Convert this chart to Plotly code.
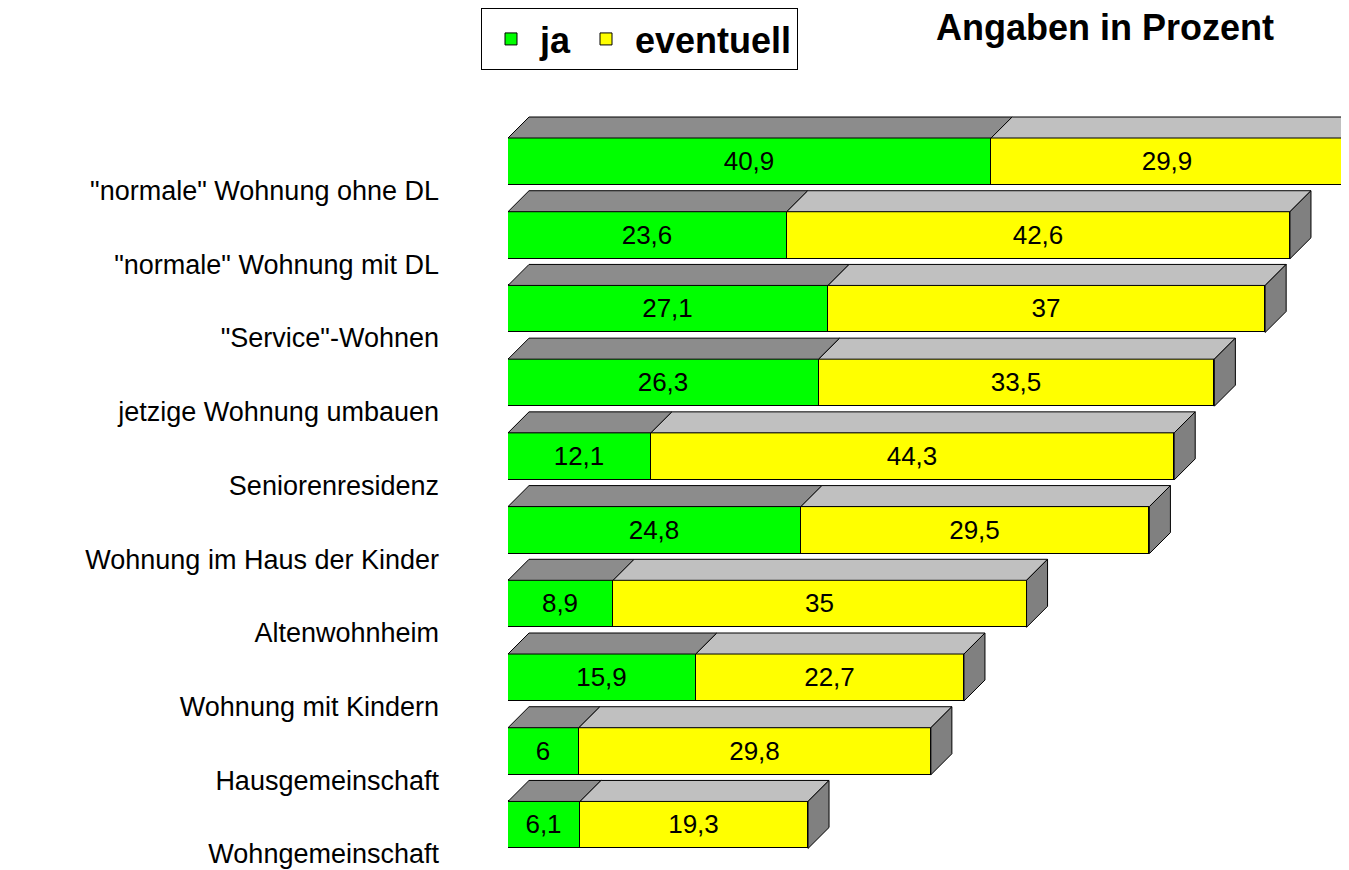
import plotly.graph_objects as go

categories = ['"normale" Wohnung ohne DL', '"normale" Wohnung mit DL', '"Service"-Wohnen',
              'jetzige Wohnung umbauen', 'Seniorenresidenz', 'Wohnung im Haus der Kinder',
              'Altenwohnheim', 'Wohnung mit Kindern', 'Hausgemeinschaft', 'Wohngemeinschaft']
ja = [40.9, 23.6, 27.1, 26.3, 12.1, 24.8, 8.9, 15.9, 6, 6.1]
eventuell = [29.9, 42.6, 37, 33.5, 44.3, 29.5, 35, 22.7, 29.8, 19.3]
series_names = ["ja", "eventuell"]

FONT = "Liberation Sans, Arial, sans-serif"
GREEN = "#00ff00"
YELLOW = "#ffff00"
TOP_GREEN = "#8c8c8c"
TOP_YELLOW = "#c0c0c0"
SIDE = "#808080"

n = len(categories)
ypos = [n - 1 - i for i in range(n)]
BW = 0.638      # bar thickness (category units)
DX = 1.78       # depth offset along x (value units)
DY = 0.285      # depth offset along y (category units)


def fmt(v):
    return ("%g" % v).replace(".", ",")


fig = go.Figure()
fig.add_trace(go.Bar(
    y=ypos, x=ja, orientation="h", width=BW, name=series_names[0],
    marker=dict(color=GREEN, line=dict(color="black", width=1)),
    text=[fmt(v) for v in ja], textposition="inside", insidetextanchor="middle",
    textangle=0, textfont=dict(family=FONT, size=26, color="black"),
    constraintext="none", hoverinfo="skip"))
fig.add_trace(go.Bar(
    y=ypos, x=eventuell, orientation="h", width=BW, name=series_names[1],
    marker=dict(color=YELLOW, line=dict(color="black", width=1)),
    text=[fmt(v) for v in eventuell], textposition="inside", insidetextanchor="middle",
    textangle=0, textfont=dict(family=FONT, size=26, color="black"),
    constraintext="none", hoverinfo="skip"))


def top_face(x0, x1, y):
    yt = y + BW / 2
    return [x0, x1, x1 + DX, x0 + DX, x0, None], [yt, yt, yt + DY, yt + DY, yt, None]


gx, gy, yx, yy, sx, sy = [], [], [], [], [], []
for y, a, b in zip(ypos, ja, eventuell):
    px, py = top_face(0, a, y)
    gx += px; gy += py
    px, py = top_face(a, a + b, y)
    yx += px; yy += py
    t = a + b
    sx += [t, t + DX, t + DX, t, t, None]
    sy += [y - BW / 2, y - BW / 2 + DY, y + BW / 2 + DY, y + BW / 2, y - BW / 2, None]

for xs, ys, col in [(gx, gy, TOP_GREEN), (yx, yy, TOP_YELLOW), (sx, sy, SIDE)]:
    fig.add_trace(go.Scatter(x=xs, y=ys, mode="lines", fill="toself", fillcolor=col,
                             line=dict(color="black", width=1), showlegend=False,
                             hoverinfo="skip"))

fig.update_layout(
    width=1341, height=862,
    barmode="stack", bargap=0,
    paper_bgcolor="white", plot_bgcolor="white",
    margin=dict(l=500, r=0, t=72, b=0),
    font=dict(family=FONT, color="black"),
    title=dict(text="<b>Angaben in Prozent</b>", x=0.818, xanchor="center",
               y=0.977, yanchor="middle",
               font=dict(family=FONT, size=36, color="black")),
    legend=dict(orientation="h", x=-0.0321, xanchor="left", y=1.0911, yanchor="top",
                bordercolor="black", borderwidth=1, bgcolor="white",
                font=dict(family=FONT, size=36, color="black", weight="bold"),
                itemwidth=48, traceorder="normal"),
    xaxis=dict(range=[0, 71.2], visible=False, fixedrange=True),
    yaxis=dict(range=[-0.611, 10.106], tickmode="array", tickvals=ypos,
               ticktext=categories, showgrid=False, zeroline=False, showline=False,
               ticks="", ticklabelstandoff=68, ticklabelshift=29,
               ticklabeloverflow="allow",
               tickfont=dict(family=FONT, size=27, color="black"), fixedrange=True),
    showlegend=True,
)

fig.write_html("out.html")
